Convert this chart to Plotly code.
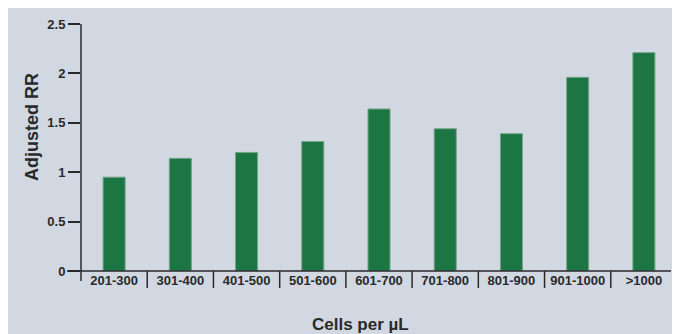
import plotly.graph_objects as go

categories = ["201-300", "301-400", "401-500", "501-600", "601-700",
              "701-800", "801-900", "901-1000", ">1000"]
adjusted_rr = [0.95, 1.14, 1.20, 1.31, 1.64, 1.44, 1.39, 1.96, 2.21]
y_ticks = [0, 0.5, 1, 1.5, 2, 2.5]

W, H = 680, 334
L, R, T, B = 73, 11, 16, 71
pw, ph = W - L - R, H - T - B

def px_x(p):
    return (p - L) / pw

def px_y(p):
    return (H - B - p) / ph

TXT = "#2a2a2a"
FONT = "Liberation Sans, Arial, sans-serif"

fig = go.Figure(go.Bar(
    x=categories, y=adjusted_rr,
    marker=dict(color="#1b7643", line=dict(color="#79a38b", width=1)),
))

shapes = [
    # x axis line
    dict(type="line", xref="paper", yref="paper", x0=px_x(59), x1=px_x(663),
         y0=0, y1=0, line=dict(color=TXT, width=1.5)),
    # y axis line
    dict(type="line", xref="paper", yref="paper", x0=0, x1=0,
         y0=px_y(273), y1=1, line=dict(color=TXT, width=1.5)),
]
for i in range(len(categories)):
    shapes.append(dict(type="line", xref="x", yref="paper", x0=i + 0.5, x1=i + 0.5,
                       y0=0, y1=px_y(280), line=dict(color=TXT, width=1.5)))

annotations = [
    dict(text="<b>Adjusted RR</b>", textangle=-90, xref="paper", yref="paper",
         x=px_x(24), y=px_y(119), xanchor="center", yanchor="middle", showarrow=False,
         font=dict(family=FONT, size=18, color=TXT)),
    dict(text="<b>Cells per µL</b>", xref="paper", yref="paper",
         x=px_x(352), y=px_y(316), xanchor="center", yanchor="middle", showarrow=False,
         font=dict(family=FONT, size=17, color=TXT)),
]

fig.update_layout(
    width=W, height=H,
    margin=dict(l=L, r=R, t=T, b=B),
    paper_bgcolor="#d1d8e1", plot_bgcolor="rgba(0,0,0,0)",
    bargap=0.667, showlegend=False,
    shapes=shapes, annotations=annotations,
    font=dict(family=FONT, color=TXT, size=13),
    xaxis=dict(
        type="category", range=[-0.5, len(categories) - 0.5],
        showline=False, showgrid=False, zeroline=False, ticks="",
        tickfont=dict(family=FONT, size=13, color=TXT, weight="bold"),
        automargin=False,
    ),
    yaxis=dict(
        range=[0, 2.5], tickvals=y_ticks, ticktext=[f"{v:g}" for v in y_ticks],
        showline=False, showgrid=False, zeroline=False,
        ticks="outside", ticklen=12, tickwidth=1.5, tickcolor=TXT,
        tickfont=dict(family=FONT, size=13, color=TXT, weight="bold"),
        automargin=False,
    ),
)

fig.write_html("out.html")
